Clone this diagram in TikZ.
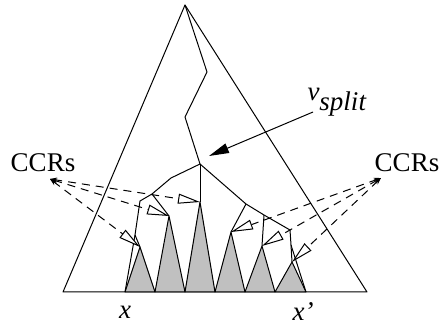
\documentclass[tikz,border=0pt]{standalone}
\usepackage{fontspec}
\setmainfont{Liberation Serif}
\usepackage{tikz}
\usetikzlibrary{arrows.meta}
\definecolor{subtreegray}{RGB}{192,192,192}

\begin{document}
\begin{tikzpicture}[x=1pt, y=-1pt,
    edge/.style={line width=1pt, line join=round},
    subtree/.style={draw, fill=subtreegray, line width=1pt, line join=round},
    ccr/.style={line width=1pt, dash pattern=on 8pt off 6pt,
      {Stealth[length=7pt, width=5pt]}-{Triangle[open, fill=white, length=22pt, width=10pt]}},
    pointer/.style={line width=1pt, -{Triangle[length=20pt, width=10pt]}},
    lab/.style={inner sep=0pt, font=\fontsize{27}{32}\selectfont},
  ]
  \useasboundingbox (0,0) rectangle (439,328);

  % the whole tree
  \coordinate (root) at (185,5);
  \coordinate (bl) at (63,292);
  \coordinate (br) at (367,292);
  \draw[edge] (root) -- (bl) -- (br) -- cycle;

  % subtrees hanging below the split paths
  \coordinate (p1) at (140,247);
  \coordinate (p2) at (169,216);
  \coordinate (p3) at (200,202);
  \coordinate (p4) at (231,232);
  \coordinate (p5) at (262,246);
  \coordinate (p6) at (292,262);
  \coordinate (x0) at (125,292);
  \coordinate (x6) at (306,292);
  \draw[subtree] (x0) -- (p1) -- (155,292) -- cycle;
  \draw[subtree] (155,292) -- (p2) -- (185,292) -- cycle;
  \draw[subtree] (185,292) -- (p3) -- (215,292) -- cycle;
  \draw[subtree] (215,292) -- (p4) -- (245,292) -- cycle;
  \draw[subtree] (245,292) -- (p5) -- (275,292) -- cycle;
  \draw[subtree] (275,292) -- (p6) -- (x6) -- cycle;

  % search paths
  \coordinate (r1) at (207,72);
  \coordinate (r2) at (185,117);
  \coordinate (split) at (200,164);
  \coordinate (a) at (171,178);
  \coordinate (b) at (152,194);
  \coordinate (c) at (140,201);
  \coordinate (d) at (135,235);
  \coordinate (g) at (246,204);
  \coordinate (h) at (264,215);
  \coordinate (e) at (290,230);
  \coordinate (f) at (291,245);
  \draw[edge] (root) -- (r1) -- (r2) -- (split);
  \draw[edge] (split) -- (p3);
  \draw[edge] (split) -- (a) -- (b) -- (c) -- (d) -- (x0);
  \draw[edge] (b) -- (p2);
  \draw[edge] (d) -- (p1);
  \draw[edge] (split) -- (g) -- (h) -- (e) -- (f) -- (x6);
  \draw[edge] (g) -- (p4);
  \draw[edge] (h) -- (p5);
  \draw[edge] (f) -- (p6);

  % labels
  \node[lab] (ccrsL) at (43,163) {CCRs};
  \node[lab] (ccrsR) at (407,163) {CCRs};
  \node[lab] (vlab) at (337,102) {\textit{v}$_{\textit{split}}$};
  \node[lab] (xl) at (125,312) {\textit{x}};
  \node[lab] (xr) at (303,312) {\textit{x’}};
  \coordinate (tipL) at (50,179);
  \coordinate (tipR) at (381,178);
  \coordinate (vtail) at (313,112);
  \coordinate (vhead) at (209,156);

  % canonical covering regions
  \draw[ccr] (tipL) -- (p3);
  \draw[ccr] (tipL) -- (p2);
  \draw[ccr] (tipL) -- (p1);
  \draw[ccr] (tipR) -- (p4);
  \draw[ccr] (tipR) -- (p5);
  \draw[ccr] (tipR) -- (p6);
  \draw[pointer] (vtail) -- (vhead);
\end{tikzpicture}
\end{document}
